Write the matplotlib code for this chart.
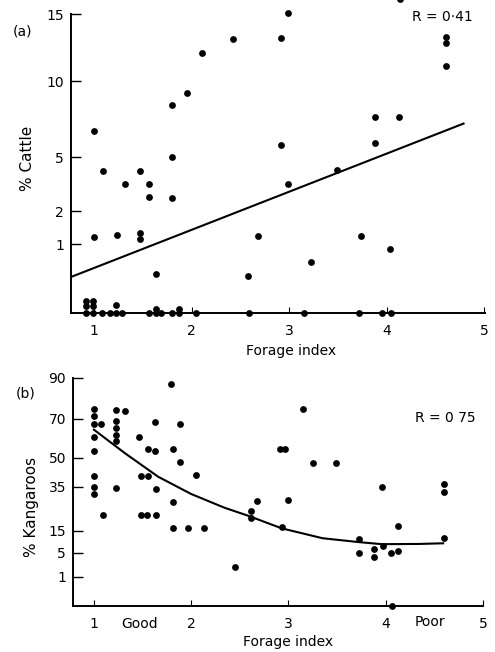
import numpy as np
import matplotlib.pyplot as plt

# hand-drawn y axes: tick values and how high each one sits (axis units)
cattle_ticks = [0, 1, 2, 5, 10, 15]
cattle_tick_height = [0, 69, 102, 156, 232, 299]
roo_ticks = [0, 1, 5, 15, 35, 50, 70, 90]
roo_tick_height = [0, 29, 53, 75, 119, 148, 187, 228]

# (a) % cattle vs forage index
cattle_x = [1.00, 1.09, 1.32, 1.47, 1.56, 1.56, 1.80, 1.80, 1.80, 1.95, 2.11, 2.43,
            1.00, 1.24, 1.47, 1.47, 1.64, 2.58, 2.99, 2.92, 4.14, 4.61, 4.61, 4.61,
            3.88, 4.13, 2.92, 3.88, 3.49, 2.99, 2.68, 3.74, 4.04, 3.23]
cattle_y = [6.7, 4.2, 3.5, 4.2, 3.5, 2.8, 8.4, 5.0, 2.7, 9.2, 12.1, 13.1,
            1.22, 1.26, 1.33, 1.14, 0.56, 0.54, 15.1, 13.2, 16.1, 13.3, 12.8, 11.1,
            7.6, 7.6, 5.8, 5.9, 4.3, 3.5, 1.25, 1.24, 0.93, 0.74]
# zero counts (stacked ones are jittered slightly in the original)
zero_x = [0.92, 0.92, 0.92, 0.99, 0.99, 0.99, 1.08, 1.16, 1.23, 1.23, 1.29, 1.56,
          1.64, 1.64, 1.69, 1.80, 1.87, 1.87, 2.05, 2.59, 3.15, 3.72, 3.95, 4.05]
zero_y = [0, 0.1, 0.17, 0, 0.1, 0.17, 0, 0, 0, 0.11, 0, 0,
          0, 0.06, 0, 0, 0, 0.06, 0, 0, 0, 0, 0, 0]
cattle_fit_x = [0.76, 4.79]
cattle_fit_y = [0.52, 7.2]

# (b) % kangaroos vs forage index
roo_x = [1.00, 1.00, 1.00, 1.07, 1.00, 1.00, 1.00, 1.00, 1.00, 1.09, 1.23, 1.32,
         1.23, 1.23, 1.23, 1.23, 1.23, 1.46, 1.56, 1.63, 1.63, 1.48, 1.56, 1.64,
         1.48, 1.55, 1.64, 1.79, 1.81, 1.89, 1.89, 1.81, 2.05, 1.81, 1.97, 2.13,
         2.61, 2.61, 2.45, 3.15, 2.91, 2.96, 3.25, 3.49, 3.96, 4.60, 4.60, 2.68,
         3.00, 2.93, 4.13, 3.73, 3.73, 3.88, 3.88, 3.97, 4.05, 4.13, 4.60, 4.06]
roo_y = [74.9, 71.5, 67.3, 67.4, 60.9, 53.7, 40.7, 35.2, 31.7, 22.1, 74.4, 73.9,
         69.1, 65.5, 61.9, 58.7, 34.4, 61.0, 54.8, 53.7, 68.3, 40.7, 40.7, 34.0,
         22.1, 22.1, 22.1, 87.1, 54.5, 67.4, 47.8, 28.2, 41.2, 16.5, 16.5, 16.5,
         24.2, 21.0, 2.7, 74.7, 54.6, 54.6, 47.6, 47.6, 35.0, 36.4, 32.9, 28.6,
         29.0, 17.0, 17.4, 11.5, 5.1, 6.7, 4.4, 8.3, 5.1, 5.7, 11.7, 0.0]
roo_fit_x = [1.00, 1.32, 1.66, 2.00, 2.34, 2.58, 2.93, 3.35, 3.73, 3.96, 4.34, 4.59]
roo_fit_y = [64.5, 52.4, 40.3, 31.8, 25.6, 22.0, 16.2, 11.7, 9.9, 9.0, 9.1, 9.4]


def knot_scale(vals, heights):
    vals = np.asarray(vals, float)
    heights = np.asarray(heights, float)
    s_lo = (heights[1] - heights[0]) / (vals[1] - vals[0])
    s_hi = (heights[-1] - heights[-2]) / (vals[-1] - vals[-2])

    def fwd(v):
        v = np.asarray(v, float)
        out = np.interp(v, vals, heights)
        out = np.where(v > vals[-1], heights[-1] + (v - vals[-1]) * s_hi, out)
        return np.where(v < vals[0], heights[0] + (v - vals[0]) * s_lo, out)

    def inv(h):
        h = np.asarray(h, float)
        out = np.interp(h, heights, vals)
        out = np.where(h > heights[-1], vals[-1] + (h - heights[-1]) / s_hi, out)
        return np.where(h < heights[0], vals[0] + (h - heights[0]) / s_lo, out)

    return fwd, inv


def style(ax, ticks, top_val):
    for s in ['top', 'right']:
        ax.spines[s].set_visible(False)
    for s in ['left', 'bottom']:
        ax.spines[s].set_linewidth(1.4)
    ax.spines['left'].set_bounds(0, top_val)
    ax.set_yticks(ticks[1:])
    ax.set_yticklabels([str(t) for t in ticks[1:]])
    ax.tick_params(axis='y', direction='in', length=7, width=1, pad=5, labelsize=10)
    ax.set_xticks([1, 2, 3, 4, 5])
    ax.tick_params(axis='x', direction='in', length=4, width=0.8, pad=8, labelsize=10)


fig = plt.figure(figsize=(4.95, 6.52), dpi=100)
dot = dict(s=24, color='black', clip_on=False, zorder=5, linewidths=0)

# panel (a)
ax1 = fig.add_axes([0.1434, 0.5199, 0.8364, 0.4801])
f1, i1 = knot_scale(cattle_ticks, cattle_tick_height)
ax1.set_yscale('function', functions=(f1, i1))
ax1.set_ylim(0, float(i1(313)))
ax1.set_xlim(0.764, 5.01)
ax1.scatter(cattle_x, cattle_y, **dot)
ax1.scatter(zero_x, zero_y, **dot)
ax1.plot(cattle_fit_x, cattle_fit_y, color='black', lw=1.5)
style(ax1, cattle_ticks, 15)
ax1.set_xlabel('Forage index', fontsize=10)
ax1.xaxis.set_label_coords(0.531, -0.100)
ax1.set_ylabel('% Cattle', fontsize=11)
ax1.yaxis.set_label_coords(-0.087, 0.495)
ax1.text(-0.118, 0.898, '(a)', transform=ax1.transAxes, fontsize=10, ha='center', va='center')
ax1.text(0.896, 0.946, 'R = 0·41', transform=ax1.transAxes, fontsize=10, ha='center', va='center')

# panel (b)
ax2 = fig.add_axes([0.1475, 0.0706, 0.8283, 0.3497])
f2, i2 = knot_scale(roo_ticks, roo_tick_height)
ax2.set_yscale('function', functions=(f2, i2))
ax2.set_ylim(0, 90)
ax2.set_xlim(0.785, 5.0)
ax2.scatter(roo_x, roo_y, **dot)
ax2.plot(roo_fit_x, roo_fit_y, color='black', lw=1.5)
style(ax2, roo_ticks, 90)
ax2.set_xlabel('Forage index', fontsize=10)
ax2.xaxis.set_label_coords(0.524, -0.128)
ax2.set_ylabel('% Kangaroos', fontsize=11)
ax2.yaxis.set_label_coords(-0.083, 0.434)
ax2.text(-0.115, 0.93, '(b)', transform=ax2.transAxes, fontsize=10, ha='center', va='center')
ax2.text(0.907, 0.825, 'R = 0 75', transform=ax2.transAxes, fontsize=10, ha='center', va='center')
ax2.text(0.163, -0.079, 'Good', transform=ax2.transAxes, fontsize=10, ha='center', va='center')
ax2.text(0.871, -0.07, 'Poor', transform=ax2.transAxes, fontsize=10, ha='center', va='center')

fig.savefig('out.png', dpi=100)
